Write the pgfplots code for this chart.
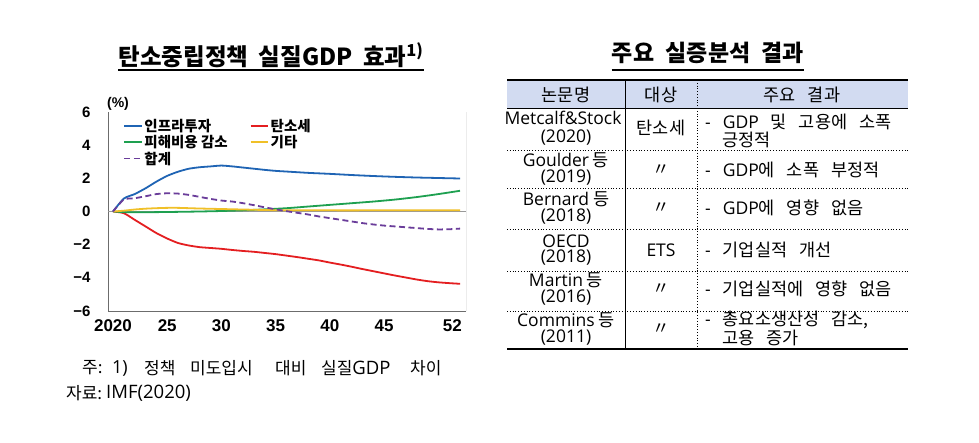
\documentclass[border=0pt]{standalone}
\usepackage{fontspec}
\usepackage{pgfplots}
\pgfplotsset{compat=1.18}
\setmainfont{Noto Sans CJK KR}
\newfontfamily\lat{Open Sans}
\newfontfamily\arial{Liberation Sans}
\definecolor{cBlue}{RGB}{31,100,180}
\definecolor{cRed}{RGB}{228,30,32}
\definecolor{cGreen}{RGB}{30,160,80}
\definecolor{cYellow}{RGB}{240,192,40}
\definecolor{cPurple}{RGB}{106,61,154}
\definecolor{hdr}{RGB}{210,219,241}
\newcommand{\fs}[1]{\fontsize{#1}{#1}\selectfont}
\newcommand{\gp}{\hspace{12pt}}
\begin{document}
\begin{tikzpicture}
\path[use as bounding box, fill=white] (0pt,0pt) rectangle (979pt,-442pt);
\begin{axis}[
  at={(108pt,-311pt)}, anchor=south west,
  scale only axis, width=358pt, height=199pt,
  xmin=2019.54, xmax=2052.55, ymin=-6, ymax=6,
  axis x line*=bottom, axis y line*=left,
  axis line style={-, draw=gray!85!black, line width=0.8pt},
  xtick={2020,2025,2030,2035,2040,2045,2051.3},
  xticklabels={2020,25,30,35,40,45,52},
  ytick={-6,-4,-2,0,2,4,6},
  yticklabels={−6,−4,−2,0,2,4,6},
  major tick length=0pt,
  x tick label style={font=\arial\bfseries\fs{17}, yshift=-5pt},
  y tick label style={font=\arial\bfseries\fs{15}, xshift=-14pt},
  legend columns=2,
  legend style={at={(axis description cs:0.043,0.975)}, anchor=north west,
    draw=none, fill=none, inner sep=0pt, font=\bfseries\fs{14.5},
    row sep=-1.5pt, cells={anchor=west},
    /tikz/every even column/.append style={column sep=20pt}},
]
\addplot[gray!80, line width=0.8pt, forget plot] coordinates {(2019.54,0) (2052.55,0)};
\addplot[cBlue, line width=1.8pt, smooth, tension=0.4] coordinates {
 (2020,0) (2021,0.78) (2022,1.05) (2023,1.4) (2024,1.8) (2025,2.15) (2026,2.4)
 (2027,2.58) (2028,2.67) (2029,2.72) (2030,2.77) (2031,2.72) (2032,2.65)
 (2033,2.58) (2034,2.51) (2035,2.45) (2036,2.41) (2038,2.33) (2040,2.27)
 (2042,2.2) (2044,2.14) (2046,2.09) (2048,2.05) (2050,2.02) (2052,1.99)};
\addlegendentry{인프라투자}
\addplot[cRed, line width=1.8pt, smooth, tension=0.4] coordinates {
 (2020,0) (2021,-0.1) (2022,-0.5) (2023,-0.9) (2024,-1.3) (2025,-1.63)
 (2026,-1.9) (2027,-2.05) (2028,-2.15) (2029,-2.2) (2030,-2.25) (2031,-2.32)
 (2032,-2.38) (2033,-2.43) (2034,-2.5) (2035,-2.57) (2036,-2.66) (2037,-2.75)
 (2038,-2.85) (2039,-2.95) (2040,-3.08) (2041,-3.2) (2042,-3.33) (2043,-3.47)
 (2044,-3.6) (2045,-3.73) (2046,-3.86) (2047,-3.98) (2048,-4.1) (2049,-4.2)
 (2050,-4.27) (2051,-4.32) (2052,-4.36)};
\addlegendentry{탄소세}
\addplot[cGreen, line width=1.8pt, smooth, tension=0.4] coordinates {
 (2020,0) (2021,-0.04) (2022,-0.05) (2025,-0.03) (2028,0.0) (2030,0.03)
 (2032,0.07) (2034,0.13) (2036,0.2) (2038,0.3) (2040,0.4) (2042,0.5)
 (2044,0.6) (2046,0.72) (2048,0.87) (2050,1.05) (2052,1.25)};
\addlegendentry{피해비용 감소}
\addplot[cYellow, line width=1.8pt, smooth, tension=0.4] coordinates {
 (2020,0) (2021,0.05) (2022,0.12) (2023,0.17) (2024,0.2) (2025,0.22)
 (2026,0.22) (2027,0.2) (2028,0.18) (2030,0.15) (2032,0.12) (2035,0.08)
 (2040,0.07) (2045,0.07) (2052,0.07)};
\addlegendentry{기타}
\addplot[cPurple, line width=1.8pt, dash pattern=on 6pt off 3.5pt, smooth, tension=0.4] coordinates {
 (2020,0) (2021,0.72) (2022,0.8) (2023,0.92) (2024,1.05) (2025,1.1) (2026,1.08)
 (2027,1.0) (2028,0.88) (2029,0.76) (2030,0.66) (2031,0.6) (2032,0.5)
 (2033,0.38) (2034,0.25) (2035,0.13) (2036,0.02) (2037,-0.08) (2038,-0.18)
 (2039,-0.3) (2040,-0.4) (2041,-0.5) (2042,-0.6) (2043,-0.7) (2044,-0.78)
 (2045,-0.85) (2046,-0.9) (2047,-0.95) (2048,-1.0) (2049,-1.05) (2050,-1.08)
 (2051,-1.07) (2052,-1.03)};
\addlegendentry{합계}
\draw[gray!85!black, line width=0.8pt] (rel axis cs:1,0) -- (rel axis cs:1,1);
\end{axis}
\begin{scope}[x=1pt,y=-1pt]
\coordinate (u1) at (0,70);
% left title
\node[inner sep=0pt, font=\bfseries\fs{23.5}] (t1) at (271,55) {탄소중립정책\hspace{0.45em}실질GDP\hspace{0.45em}효과\textsuperscript{1)}};
\draw[line width=1.6pt] (t1.west |- u1) -- (t1.east |- u1);
\node[inner sep=0pt, font=\arial\bfseries\fs{14}] at (118,104) {(\%)};
% notes
\begin{scope}[every node/.style={inner sep=0pt, anchor=west, font=\fs{17}}]
\node at (82,368) {주:};
\node at (112,368) {\lat\fs{18}1)};
\node at (144,368) {정책};
\node at (190,368) {미도입시};
\node at (275,368) {대비};
\node at (321,368) {실질{\lat\fs{18.5}GDP}};
\node at (410,368) {차이};
\node at (66,393) {자료:};
\node at (106,393) {\lat\fs{18.5}IMF(2020)};
\end{scope}
% right title
\node[inner sep=0pt, font=\bfseries\fs{23}] (t2) at (708,53) {주요\hspace{0.5em}실증분석\hspace{0.5em}결과};
\draw[line width=1.6pt] (t2.west |- u1) -- (t2.east |- u1);
% table
\fill[hdr] (507,80) rectangle (908,108);
\draw[line width=1.6pt] (507,80) -- (908,80);
\draw[line width=0.6pt] (507,108) -- (908,108);
\foreach \yy in {150,188,229,271,311} {\draw[line width=0.8pt, dotted] (507,\yy) -- (908,\yy);}
\draw[line width=1.6pt] (507,349) -- (908,349);
\draw[line width=0.8pt] (625,80) -- (625,349);
\draw[line width=0.8pt, dotted] (697,80) -- (697,349);
\begin{scope}[every node/.style={inner sep=0pt, font=\fs{17.5}}]
\node at (566,95) {논문명};
\node at (661,95) {대상};
\node at (802,95) {주요\gp 결과};
% row 1
\node at (563,118) {\lat Metcalf\&Stock};
\node at (566,138) {\lat (2020)};
\node at (661,128) {탄소세};
\node[anchor=west] at (705,122) {{\lat -}\gp{\lat GDP}\gp 및\gp 고용에\gp 소폭};
\node[anchor=west] at (722,140) {긍정적};
% row 2
\node at (566,160) {{\lat Goulder} 등};
\node at (566,178) {\lat (2019)};
\node at (661,170) {〃};
\node[anchor=west] at (705,170) {{\lat -}\gp{\lat GDP}에\gp 소폭\gp 부정적};
% row 3
\node at (566,199) {{\lat Bernard} 등};
\node at (566,217) {\lat (2018)};
\node at (661,208) {〃};
\node[anchor=west] at (705,208) {{\lat -}\gp{\lat GDP}에\gp 영향\gp 없음};
% row 4
\node at (566,241) {\lat OECD};
\node at (566,258) {\lat (2018)};
\node at (661,250) {\lat ETS};
\node[anchor=west] at (705,250) {{\lat -}\gp 기업실적\gp 개선};
% row 5
\node at (566,280) {{\lat Martin} 등};
\node at (566,298) {\lat (2016)};
\node at (661,289) {〃};
\node[anchor=west] at (705,289) {{\lat -}\gp 기업실적에\gp 영향\gp 없음};
% row 6
\node at (566,320) {{\lat Commins} 등};
\node at (566,338) {\lat (2011)};
\node at (661,329) {〃};
\node[anchor=west] at (705,320) {{\lat -}\gp 총요소생산성\gp 감소,};
\node[anchor=west] at (722,338) {고용\gp 증가};
\end{scope}
\end{scope}
\end{tikzpicture}
\end{document}
